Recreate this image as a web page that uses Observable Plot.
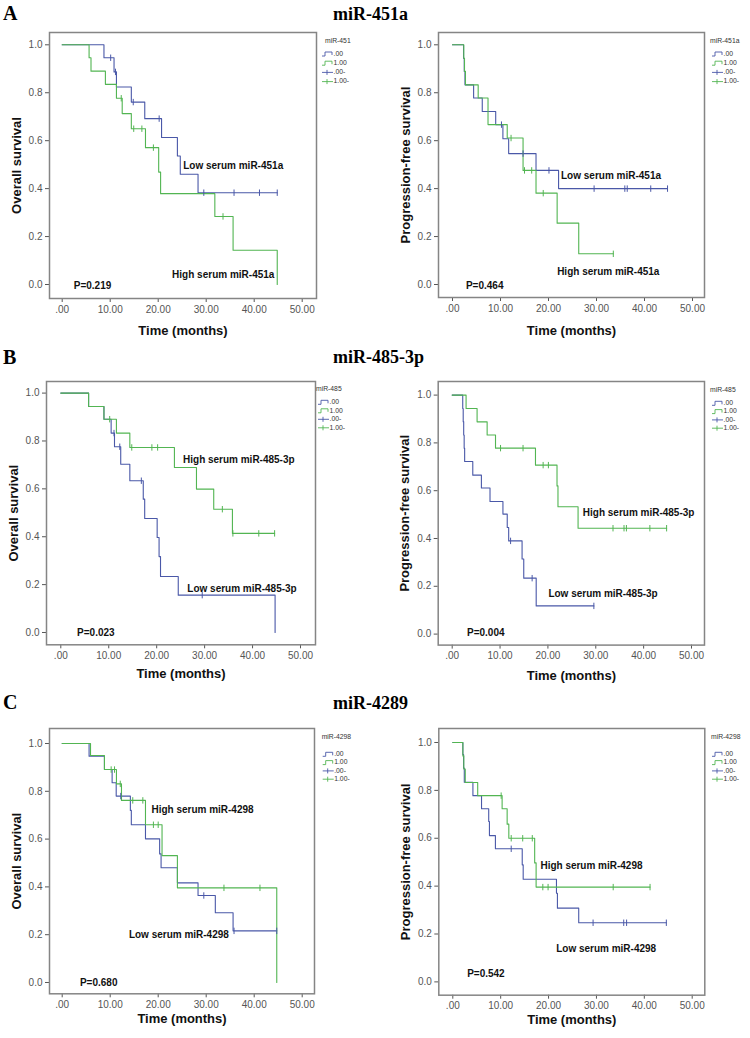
<!DOCTYPE html>
<html><head><meta charset="utf-8">
<script src="https://cdn.jsdelivr.net/npm/d3@7"></script>
<script src="https://cdn.jsdelivr.net/npm/@observablehq/plot@0.6"></script>
<style>
body{margin:0;background:#fff;}
#fig{position:relative;width:750px;height:1038px;background:#fff;overflow:hidden;}
#fig .panel{position:absolute;}
#overlay{position:absolute;left:0;top:0;pointer-events:none;}
</style></head><body><div id="fig"></div>
<script>
// ---------- DATA (time in months, survival probability) ----------
const BLUE = "#4a58a8", GREEN = "#52b552";
const sectionLetters = ["A", "B", "C"];
const sectionTitles = ["miR-451a", "miR-485-3p", "miR-4289"];
const yTitles = ["Overall survival", "Progression-free survival"];
const xTitle = "Time (months)";
const legendTitles = ["miR-451", "miR-451a", "miR-485", "miR-485", "miR-4298", "miR-4298"];
const legendLabels = [".00", "1.00", ".00-", "1.00-"];
const xTicks = [0, 10, 20, 30, 40, 50];
const xTickLabels = [".00", "10.00", "20.00", "30.00", "40.00", "50.00"];
const yTicks = [0, 0.2, 0.4, 0.6, 0.8, 1.0];
const yTickLabels = ["0.0", "0.2", "0.4", "0.6", "0.8", "1.0"];

// A: miR-451a, overall survival
const osA_low = [[0,1],[8.7,0.946],[10.8,0.887],[11.3,0.824],[14.4,0.761],[17.2,0.692],[20.7,0.613],[24.0,0.536],[24.6,0.46],[28.3,0.383],[44.8,0.383]];
const osA_lowCens = [10.1, 11.1, 14.8, 20.2, 29.5, 35.8, 41.1, 44.8];
const osA_high = [[0,1],[5.6,0.946],[6.0,0.89],[9.0,0.835],[11.3,0.777],[12.5,0.713],[14.4,0.65],[17.35,0.571],[20.1,0.469],[20.5,0.379],[31.8,0.284],[35.6,0.143],[44.8,0]];
const osA_highCens = [12.3, 14.9, 16.6, 19.0, 33.5];
// A: miR-451a, progression-free survival
const pfsA_low = [[0,1],[2.3,0.944],[2.45,0.889],[2.6,0.833],[4.4,0.778],[6.2,0.722],[9.0,0.667],[10.5,0.608],[11.7,0.546],[17.4,0.476],[22.1,0.40],[44.8,0.40]];
const pfsA_lowCens = [10.2, 14.7, 20.1, 29.5, 35.9, 36.4, 41.3, 44.8];
const pfsA_high = [[0,1],[2.35,0.944],[2.5,0.889],[2.7,0.833],[5.35,0.778],[7.4,0.667],[11.4,0.611],[14.7,0.476],[17.4,0.381],[21.8,0.256],[26.3,0.128],[33.5,0.128]];
const pfsA_highCens = [12.2, 15.0, 16.5, 18.9, 33.5];
// B: miR-485-3p, overall survival
const osB_low = [[0,1],[5.8,0.944],[9.0,0.891],[10.5,0.833],[11.2,0.776],[12.5,0.703],[14.4,0.634],[17.2,0.557],[17.5,0.476],[20.1,0.397],[20.5,0.317],[20.8,0.234],[24.5,0.156],[44.7,0]];
const osB_lowCens = [11.1, 12.3, 16.8, 29.5];
const osB_high = [[0,1],[5.8,0.944],[9.0,0.891],[11.6,0.833],[14.4,0.773],[23.7,0.689],[28.3,0.599],[31.9,0.515],[35.8,0.414],[44.6,0.414]];
const osB_highCens = [10.2, 14.8, 19.0, 20.2, 33.7, 35.9, 41.3, 44.6];
// B: miR-485-3p, progression-free survival
const pfsB_low = [[0,1],[2.2,0.944],[2.3,0.889],[2.4,0.833],[2.5,0.778],[2.6,0.722],[4.3,0.665],[6.1,0.611],[7.9,0.555],[10.6,0.502],[11.5,0.446],[11.8,0.39],[14.6,0.314],[14.95,0.234],[17.55,0.118],[29.6,0.118]];
const pfsB_lowCens = [12.2, 16.7, 29.6];
const pfsB_high = [[0,1],[2.9,0.944],[5.2,0.888],[7.3,0.833],[9.05,0.778],[17.4,0.707],[21.9,0.62],[22.1,0.533],[26.3,0.443],[44.8,0.443]];
const pfsB_highCens = [10.1, 14.8, 19.0, 20.1, 33.6, 35.9, 36.4, 41.3, 44.8];
// C: miR-4298, overall survival
const osC_low = [[0,1],[5.6,0.947],[8.8,0.891],[10.4,0.836],[11.25,0.78],[14.2,0.72],[14.4,0.66],[17.35,0.601],[20.3,0.538],[20.6,0.48],[24.0,0.417],[28.3,0.364],[31.9,0.292],[35.6,0.216],[44.7,0.216]];
const osC_lowCens = [12.2, 29.5, 35.8, 44.7];
const osC_high = [[0,1],[5.9,0.95],[8.8,0.891],[11.3,0.831],[12.35,0.762],[17.35,0.66],[20.8,0.531],[24.0,0.396],[44.7,0]];
const osC_highCens = [10.2, 10.9, 12.1, 14.7, 16.8, 19.0, 20.0, 33.7, 41.2];
// C: miR-4298, progression-free survival
const pfsC_low = [[0,1],[2.1,0.95],[2.25,0.893],[2.4,0.834],[4.2,0.778],[6.0,0.723],[7.5,0.67],[7.65,0.611],[8.9,0.556],[14.5,0.489],[14.7,0.429],[21.65,0.37],[21.85,0.308],[26.3,0.247],[44.6,0.247]];
const pfsC_lowCens = [12.2, 29.3, 35.7, 36.3, 44.6];
const pfsC_high = [[0,1],[2.1,0.944],[2.3,0.889],[2.6,0.833],[5.2,0.778],[10.3,0.723],[11.35,0.659],[11.7,0.6],[17.1,0.497],[17.4,0.396],[41.2,0.396]];
const pfsC_highCens = [10.1, 12.2, 14.6, 16.6, 18.8, 19.9, 33.5, 41.2];

// Annotations (anchored in data units)
const labA_os = [{text:"Low serum miR-451a", t:25.2, s:0.494},{text:"High serum miR-451a", t:22.9, s:0.042},{text:"P=0.219", t:2.4, s:-0.007}];
const labA_pfs = [{text:"Low serum miR-451a", t:22.6, s:0.455},{text:"High serum miR-451a", t:21.8, s:0.054},{text:"P=0.464", t:2.8, s:-0.007}];
const labB_os = [{text:"High serum miR-485-3p", t:25.5, s:0.72},{text:"Low serum miR-485-3p", t:26.4, s:0.181},{text:"P=0.023", t:3.4, s:-0.003}];
const labB_pfs = [{text:"High serum miR-485-3p", t:27.3, s:0.506},{text:"Low serum miR-485-3p", t:20.1, s:0.167},{text:"P=0.004", t:3.1, s:0.004}];
const labC_os = [{text:"High serum miR-4298", t:18.6, s:0.722},{text:"Low serum miR-4298", t:13.9, s:0.198},{text:"P=0.680", t:3.7, s:0.0}];
const labC_pfs = [{text:"High serum miR-4298", t:18.3, s:0.487},{text:"Low serum miR-4298", t:21.6, s:0.139},{text:"P=0.542", t:3.0, s:0.035}];

// ---------- LAYOUT (page pixels) ----------
const geoms = [
  {left:0,   frameL:49,    frameR:316,   frameT:32,    frameB:298,   x0:61.7,  x50:301.7, y1:44.3,  y0:284,   xTitleDy:32, lg:{tx:325,   ty:41.7,  ix:322,   iy:54,    step:9.2}},
  {left:375, frameL:438,   frameR:704,   frameT:32,    frameB:297,   x0:452,   x50:692,   y1:44.3,  y0:284,   xTitleDy:33, lg:{tx:710,   ty:41.7,  ix:712,   iy:54,    step:9.2}},
  {left:0,   frameL:46,    frameR:315,   frameT:380.7, frameB:644,   x0:60.3,  x50:300,   y1:392.3, y0:631.7, xTitleDy:29, lg:{tx:316,   ty:389.3, ix:318,   iy:402.3, step:8.5}},
  {left:375, frameL:437.7, frameR:704,   frameT:380.7, frameB:644.3, x0:451.7, x50:691,   y1:394.3, y0:633.3, xTitleDy:31, lg:{tx:710,   ty:390,   ix:712,   iy:403.3, step:8.3}},
  {left:0,   frameL:49,    frameR:314,   frameT:727.7, frameB:993,   x0:61.7,  x50:301.7, y1:742.7, y0:981.7, xTitleDy:25, lg:{tx:321.7, ty:737.7, ix:322.7, iy:754.3, step:8.3}},
  {left:375, frameL:438.3, frameR:704.3, frameT:728.3, frameB:995,   x0:452.3, x50:691.7, y1:742.3, y0:981.7, xTitleDy:25, lg:{tx:711,   ty:737.7, ix:712,   iy:754.3, step:8.3}}
];
const sectionGeom = [{letterY:20, titleY:20}, {letterY:364, titleY:363}, {letterY:709, titleY:709}];

const panels = [
  {low:osA_low,  lowCens:osA_lowCens,  high:osA_high,  highCens:osA_highCens,  yTitle:yTitles[0], labels:labA_os},
  {low:pfsA_low, lowCens:pfsA_lowCens, high:pfsA_high, highCens:pfsA_highCens, yTitle:yTitles[1], labels:labA_pfs},
  {low:osB_low,  lowCens:osB_lowCens,  high:osB_high,  highCens:osB_highCens,  yTitle:yTitles[0], labels:labB_os},
  {low:pfsB_low, lowCens:pfsB_lowCens, high:pfsB_high, highCens:pfsB_highCens, yTitle:yTitles[1], labels:labB_pfs},
  {low:osC_low,  lowCens:osC_lowCens,  high:osC_high,  highCens:osC_highCens,  yTitle:yTitles[0], labels:labC_os},
  {low:pfsC_low, lowCens:pfsC_lowCens, high:pfsC_high, highCens:pfsC_highCens, yTitle:yTitles[1], labels:labC_pfs}
];

const FONT = "Arial, 'Liberation Sans', Helvetica, sans-serif";
const vtick = {draw(ctx, size) { const r = Math.sqrt(size / Math.PI); ctx.moveTo(0, -r); ctx.lineTo(0, r); }};
const toRows = arr => arr.map(([t, s]) => ({t, s}));
const stepAt = (arr, t) => { let v = arr[0][1]; for (const [tt, s] of arr) if (tt <= t) v = s; return v; };
const censRows = (curve, times) => times.map(t => ({t, s: stepAt(curve, t)}));

const fig = document.getElementById("fig");

panels.forEach((p, i) => {
  const g = geoms[i];
  const W = 375, top = g.frameT - 8, H = g.frameB + 44 - top;
  const chart = Plot.plot({
    width: W, height: H,
    marginLeft: g.frameL - g.left, marginRight: g.left + W - g.frameR,
    marginTop: g.frameT - top, marginBottom: top + H - g.frameB,
    insetLeft: g.x0 - g.frameL, insetRight: g.frameR - g.x50,
    insetTop: g.y1 - g.frameT, insetBottom: g.frameB - g.y0,
    x: {type: "linear", domain: [0, 50]},
    y: {type: "linear", domain: [0, 1]},
    style: {fontFamily: FONT, background: "transparent", overflow: "visible"},
    marks: [
      Plot.axisY(yTicks, {anchor: "left", tickSize: 4, tickPadding: 3, fontSize: 10, color: "#555",
        tickFormat: d => yTickLabels[yTicks.indexOf(d)], label: null}),
      Plot.axisX(xTicks, {anchor: "bottom", tickSize: 4, tickPadding: 3, fontSize: 10, color: "#555",
        tickFormat: d => xTickLabels[xTicks.indexOf(d)], label: null}),
      Plot.frame({stroke: "#858585", strokeWidth: 1.5}),
      Plot.line(toRows(p.low), {x: "t", y: "s", curve: "step-after", stroke: BLUE, strokeWidth: 1.1}),
      Plot.line(toRows(p.high), {x: "t", y: "s", curve: "step-after", stroke: GREEN, strokeWidth: 1.1}),
      Plot.dot(censRows(p.low, p.lowCens), {x: "t", y: "s", symbol: vtick, r: 3.2, stroke: BLUE, fill: "none", strokeWidth: 1}),
      Plot.dot(censRows(p.high, p.highCens), {x: "t", y: "s", symbol: vtick, r: 3.2, stroke: GREEN, fill: "none", strokeWidth: 1}),
      Plot.text(p.labels, {x: "t", y: "s", text: "text", textAnchor: "start", fontWeight: "bold", fontSize: 10, fill: "#111"}),
      Plot.text([p.yTitle], {frameAnchor: "left", dx: -33, rotate: -90, textAnchor: "middle", lineAnchor: "middle", fontWeight: "bold", fontSize: 13, fill: "#111"}),
      Plot.text([xTitle], {frameAnchor: "bottom", dy: g.xTitleDy, textAnchor: "middle", lineAnchor: "middle", fontWeight: "bold", fontSize: 13, fill: "#111"})
    ]
  });
  const wrap = document.createElement("div");
  wrap.className = "panel";
  wrap.style.left = g.left + "px";
  wrap.style.top = top + "px";
  wrap.appendChild(chart);
  fig.appendChild(wrap);
});

// Overlay: section letters, section titles, SPSS-style legends
const ov = d3.select(fig).append("svg").attr("id", "overlay").attr("width", 750).attr("height", 1038);
sectionLetters.forEach((L, k) => {
  ov.append("text").attr("x", 3).attr("y", sectionGeom[k].letterY)
    .attr("font-family", "'Liberation Serif', 'Times New Roman', serif").attr("font-weight", "bold").attr("font-size", 20).text(L);
  ov.append("text").attr("x", 333).attr("y", sectionGeom[k].titleY)
    .attr("font-family", "'Liberation Serif', 'Times New Roman', serif").attr("font-weight", "bold").attr("font-size", 18).text(sectionTitles[k]);
});
geoms.forEach((g, i) => {
  const lg = g.lg;
  const G = ov.append("g").attr("font-family", FONT).attr("fill", "#333");
  G.append("text").attr("x", lg.tx).attr("y", lg.ty).attr("dominant-baseline", "middle").attr("font-size", 6.8).text(legendTitles[i]);
  legendLabels.forEach((lab, j) => {
    const y = lg.iy + j * lg.step, x = lg.ix, col = j % 2 === 0 ? BLUE : GREEN;
    if (j < 2) {
      G.append("path").attr("d", `M${x},${y + 2}H${x + 3}V${y - 2}H${x + 10}V${y + 1}`).attr("fill", "none").attr("stroke", col).attr("stroke-width", 0.9);
    } else {
      G.append("path").attr("d", `M${x},${y}H${x + 11}M${x + 5},${y - 2.5}V${y + 2.5}`).attr("fill", "none").attr("stroke", col).attr("stroke-width", 0.9);
    }
    G.append("text").attr("x", x + 11.5).attr("y", y).attr("dominant-baseline", "middle").attr("font-size", 6.8).text(lab);
  });
});
</script></body></html>
